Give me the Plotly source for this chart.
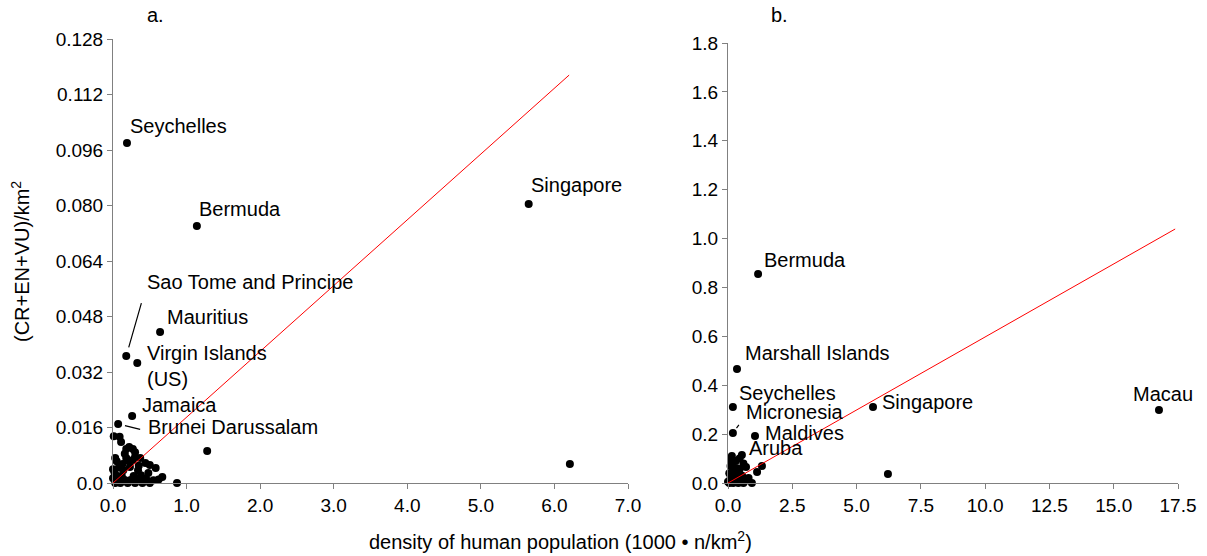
import plotly.graph_objects as go

# ---------------- data: panel a ----------------
a_names = ["Seychelles", "Bermuda", "Singapore", "Mauritius", "Sao Tome and Principe",
           "Virgin Islands<br>(US)", "Jamaica", "Brunei Darussalam"]
a_lab_x = [0.19, 1.14, 5.65, 0.64, 0.18, 0.33, 0.26, 0.07]
a_lab_y = [0.098, 0.0741, 0.0804, 0.0435, 0.0366, 0.0346, 0.0193, 0.0170]

a_x = [1.28, 6.21, 0.87, 0.01, 0.09, 0.11, 0.05, 0.03, 0.18, 0.22, 0.27, 0.30, 0.30, 0.27,
       0.22, 0.18, 0.16, 0.37, 0.44, 0.50, 0.58, 0.67, 0.48, 0.34, 0.23, 0.14, 0.00, 0.05,
       0.16, 0.24, 0.33, 0.40, 0.50, 0.03, 0.10, 0.20, 0.30, 0.40, 0.02, 0.06, 0.12, 0.28,
       0.08, 0.35, 0.00, 0.13, 0.45, 0.55, 0.62, 0.38]
a_y = [0.0092, 0.0055, 0.0, 0.0135, 0.0133, 0.0118, 0.0063, 0.0072, 0.0098, 0.0104, 0.0098,
       0.0089, 0.0075, 0.0066, 0.0063, 0.0072, 0.0084, 0.0072, 0.0058, 0.0052, 0.0043,
       0.0017, 0.0029, 0.0037, 0.0046, 0.0037, 0.0014, 0.0009, 0.0009, 0.0009, 0.0009,
       0.0009, 0.0, 0.0, 0.0, 0.0, 0.0, 0.0, 0.0030, 0.0020, 0.0020, 0.0020, 0.0045,
       0.0050, 0.0040, 0.0055, 0.0012, 0.0008, 0.0010, 0.0022]
a_fit_x = [0.0, 6.2]
a_fit_y = [0.0, 0.1176]

# ---------------- data: panel b ----------------
b_names = ["Bermuda", "Marshall Islands", "Seychelles", "Micronesia", "Maldives", "Aruba",
           "Singapore", "Macau"]
b_lab_x = [1.17, 0.35, 0.19, 0.19, 1.05, 0.54, 5.64, 16.76]
b_lab_y = [0.855, 0.466, 0.311, 0.205, 0.192, 0.115, 0.311, 0.299]

b_x = [6.22, 1.32, 1.13, 0.93, 0.15, 0.45, 0.60, 0.70, 0.30, 0.10, 0.20, 0.40, 0.55, 0.80,
       0.30, 0.10, 0.05, 0.20, 0.40, 0.60, 0.50, 0.25, 0.05, 0.15, 0.35, 0.00, 0.70, 0.12,
       0.45, 0.25]
b_y = [0.037, 0.070, 0.045, 0.0, 0.110, 0.100, 0.080, 0.065, 0.090, 0.070, 0.050, 0.040,
       0.030, 0.020, 0.020, 0.020, 0.0, 0.0, 0.0, 0.0, 0.010, 0.060, 0.040, 0.080, 0.060,
       0.005, 0.010, 0.095, 0.055, 0.030]
b_fit_x = [0.0, 17.39]
b_fit_y = [0.0, 1.039]

a_xticks = [0, 1, 2, 3, 4, 5, 6, 7]
a_xtext = ["0.0", "1.0", "2.0", "3.0", "4.0", "5.0", "6.0", "7.0"]
a_yticks = [0, 0.016, 0.032, 0.048, 0.064, 0.080, 0.096, 0.112, 0.128]
a_ytext = ["0.0", "0.016", "0.032", "0.048", "0.064", "0.080", "0.096", "0.112", "0.128"]
b_xticks = [0, 2.5, 5, 7.5, 10, 12.5, 15, 17.5]
b_xtext = ["0.0", "2.5", "5.0", "7.5", "10.0", "12.5", "15.0", "17.5"]
b_yticks = [0, 0.2, 0.4, 0.6, 0.8, 1.0, 1.2, 1.4, 1.6, 1.8]
b_ytext = ["0.0", "0.2", "0.4", "0.6", "0.8", "1.0", "1.2", "1.4", "1.6", "1.8"]

# ---------------- styles ----------------
W, H = 1207, 556
FONT = "Liberation Sans, Arial, sans-serif"
a_off = [(1, 17), (0, 17), (0, 19), (5, 15), (19, 74), (8, -3), (8, 11), (28, -3)]
b_off = [(4, 14), (6, 16), (4, 14), (11, 21), (8, 3), (5, 7), (7, 5), (-28, 16)]

fig = go.Figure()
mk = dict(color="black", size=8)
fig.add_trace(go.Scatter(x=a_x + a_lab_x, y=a_y + a_lab_y, mode="markers", marker=mk,
                         cliponaxis=False, xaxis="x", yaxis="y", showlegend=False))
fig.add_trace(go.Scatter(x=a_fit_x, y=a_fit_y, mode="lines", line=dict(color="red", width=1),
                         xaxis="x", yaxis="y", showlegend=False))
fig.add_trace(go.Scatter(x=b_x + b_lab_x, y=b_y + b_lab_y, mode="markers", marker=mk,
                         cliponaxis=False, xaxis="x2", yaxis="y2", showlegend=False))
fig.add_trace(go.Scatter(x=b_fit_x, y=b_fit_y, mode="lines", line=dict(color="red", width=1),
                         xaxis="x2", yaxis="y2", showlegend=False))

ann = []
for name, x, y, (dx, dy) in zip(a_names, a_lab_x, a_lab_y, a_off):
    ann.append(dict(x=x, y=y, xref="x", yref="y", text=name, showarrow=False, xanchor="left",
                    yanchor="middle", align="left", xshift=dx, yshift=dy,
                    font=dict(size=20, color="black", family=FONT)))
for name, x, y, (dx, dy) in zip(b_names, b_lab_x, b_lab_y, b_off):
    ann.append(dict(x=x, y=y, xref="x2", yref="y2", text=name, showarrow=False, xanchor="left",
                    yanchor="middle", align="left", xshift=dx, yshift=dy,
                    font=dict(size=20, color="black", family=FONT)))

# leader lines (point -> label)
lead = [("x", "y", a_lab_x[4], a_lab_y[4], 18, -63, 9),
        ("x", "y", a_lab_x[7], a_lab_y[7], 25, 6, 7),
        ("x2", "y2", b_lab_x[3], b_lab_y[3], 9, -12, 6)]
for xr, yr, x, y, ax, ay, so in lead:
    ann.append(dict(x=x, y=y, xref=xr, yref=yr, ax=ax, ay=ay, showarrow=True, arrowhead=0,
                    arrowwidth=1.2, arrowcolor="black", standoff=so, text=" "))

txt = dict(showarrow=False, xref="paper", yref="paper", xanchor="center", yanchor="middle",
           font=dict(size=20, color="black", family=FONT))
ann.append(dict(x=155 / W, y=1 - 15 / H, text="a.", **txt))
ann.append(dict(x=779 / W, y=1 - 15 / H, text="b.", **txt))
ann.append(dict(x=560 / W, y=1 - 540 / H,
                text="density of human population (1000 • n/km<sup>2</sup>)", **txt))
ann.append(dict(x=20 / W, y=1 - 262 / H, textangle=-90,
                text="(CR+EN+VU)/km<sup>2</sup>", **txt))

axis_common = dict(showline=True, linecolor="#808080", linewidth=1, ticks="outside",
                   ticklen=5, tickcolor="#808080", showgrid=False, zeroline=False,
                   automargin=False,
                   tickfont=dict(size=19, color="black", family=FONT), tickmode="array")

fig.update_layout(
    width=W, height=H, margin=dict(l=0, r=0, t=0, b=0, autoexpand=False),
    paper_bgcolor="white", plot_bgcolor="white", showlegend=False,
    xaxis=dict(domain=[113 / W, 628 / W], range=[0, 7], tickvals=a_xticks, ticktext=a_xtext,
               anchor="y", **axis_common),
    yaxis=dict(domain=[1 - 483 / H, 1 - 39 / H], range=[0, 0.128], tickvals=a_yticks,
               ticktext=a_ytext, anchor="x", **axis_common),
    xaxis2=dict(domain=[728 / W, 1178 / W], range=[0, 17.5], tickvals=b_xticks,
                ticktext=b_xtext, anchor="y2", **axis_common),
    yaxis2=dict(domain=[1 - 483 / H, 1 - 43 / H], range=[0, 1.8], tickvals=b_yticks,
                ticktext=b_ytext, anchor="x2", **axis_common),
    annotations=ann,
)

fig.write_html("out.html", config={"displayModeBar": False},
               post_script="document.body.style.margin='0';document.body.style.overflow='hidden';")
